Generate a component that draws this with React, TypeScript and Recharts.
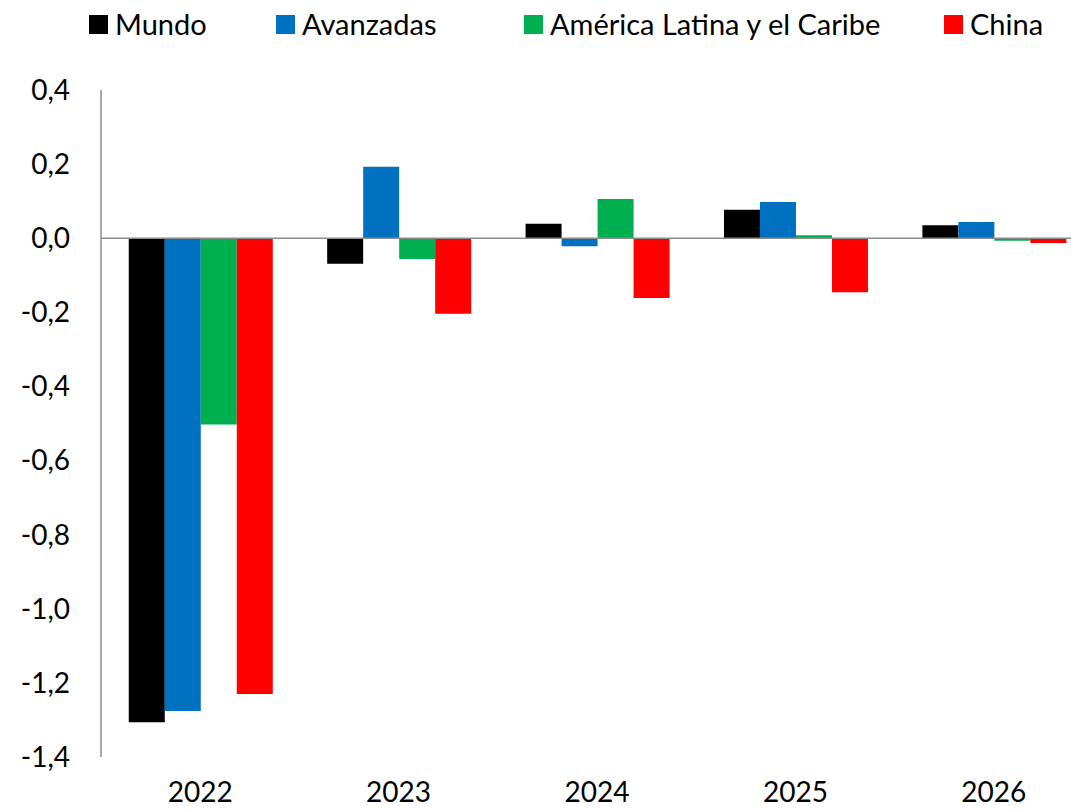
import React from "react";
import { BarChart, Bar, XAxis, YAxis, ReferenceLine } from "recharts";

const years = ["2022", "2023", "2024", "2025", "2026"];
const mundo = [-1.306, -0.069, 0.039, 0.077, 0.035];
const avanzadas = [-1.276, 0.193, -0.022, 0.098, 0.044];
const alc = [-0.503, -0.056, 0.106, 0.008, -0.007];
const china = [-1.23, -0.204, -0.161, -0.146, -0.013];
const yTicks = [-1.4, -1.2, -1.0, -0.8, -0.6, -0.4, -0.2, 0, 0.2, 0.4];

const series = [
  { key: "mundo", name: "Mundo", color: "#000000" },
  { key: "avanzadas", name: "Avanzadas", color: "#0070C0" },
  { key: "alc", name: "América Latina y el Caribe", color: "#00B050" },
  { key: "china", name: "China", color: "#FF0000" },
];

const data = years.map((y, i) => ({
  year: y,
  mundo: mundo[i],
  avanzadas: avanzadas[i],
  alc: alc[i],
  china: china[i],
}));

const FONT = "Lato, 'Noto Sans', sans-serif";
const legendLefts = [89, 276, 524, 944];

const fmt = (v: number) => v.toFixed(1).replace(".", ",");

export default function App() {
  return (
    <div
      style={{
        position: "fixed",
        left: 0,
        top: 0,
        width: 1071,
        height: 810,
        overflow: "hidden",
        background: "#ffffff",
        fontFamily: FONT,
      }}
    >
      <div style={{ position: "absolute", left: 0, top: 0, width: 1071, height: 50 }}>
        {series.map((s, i) => (
          <div
            key={s.key}
            style={{
              position: "absolute",
              left: legendLefts[i],
              top: 6,
              display: "flex",
              alignItems: "center",
              whiteSpace: "nowrap",
              fontSize: 29,
              color: "#000",
              lineHeight: "36px",
            }}
          >
            <span
              style={{
                display: "inline-block",
                width: 19,
                height: 19,
                background: s.color,
                marginRight: 7,
              }}
            />
            <span>{s.name}</span>
          </div>
        ))}
      </div>
      <div style={{ position: "absolute", left: 0, top: 0 }}>
        <BarChart
          width={1103}
          height={830}
          data={data}
          margin={{ top: 90, right: 10, left: 0, bottom: 13 }}
          barCategoryGap="14%"
          barGap={0}
        >
          <XAxis
            dataKey="year"
            axisLine={false}
            tickLine={false}
            tickSize={0}
            tickMargin={25}
            height={60}
            tick={{ fill: "#000", fontSize: 28, fontFamily: FONT }}
          />
          <YAxis
            width={101}
            domain={[-1.4, 0.4]}
            ticks={yTicks}
            tickFormatter={fmt}
            axisLine={{ stroke: "#8c8c8c", strokeWidth: 1.5 }}
            tickLine={false}
            tickSize={0}
            tickMargin={31}
            interval={0}
            tick={{ fill: "#000", fontSize: 28, fontFamily: FONT }}
          />
          {series.map((s) => (
            <Bar
              key={s.key}
              dataKey={s.key}
              name={s.name}
              fill={s.color}
              isAnimationActive={false}
            />
          ))}
          <ReferenceLine y={0} stroke="#8c8c8c" strokeWidth={1.5} />
        </BarChart>
      </div>
    </div>
  );
}
